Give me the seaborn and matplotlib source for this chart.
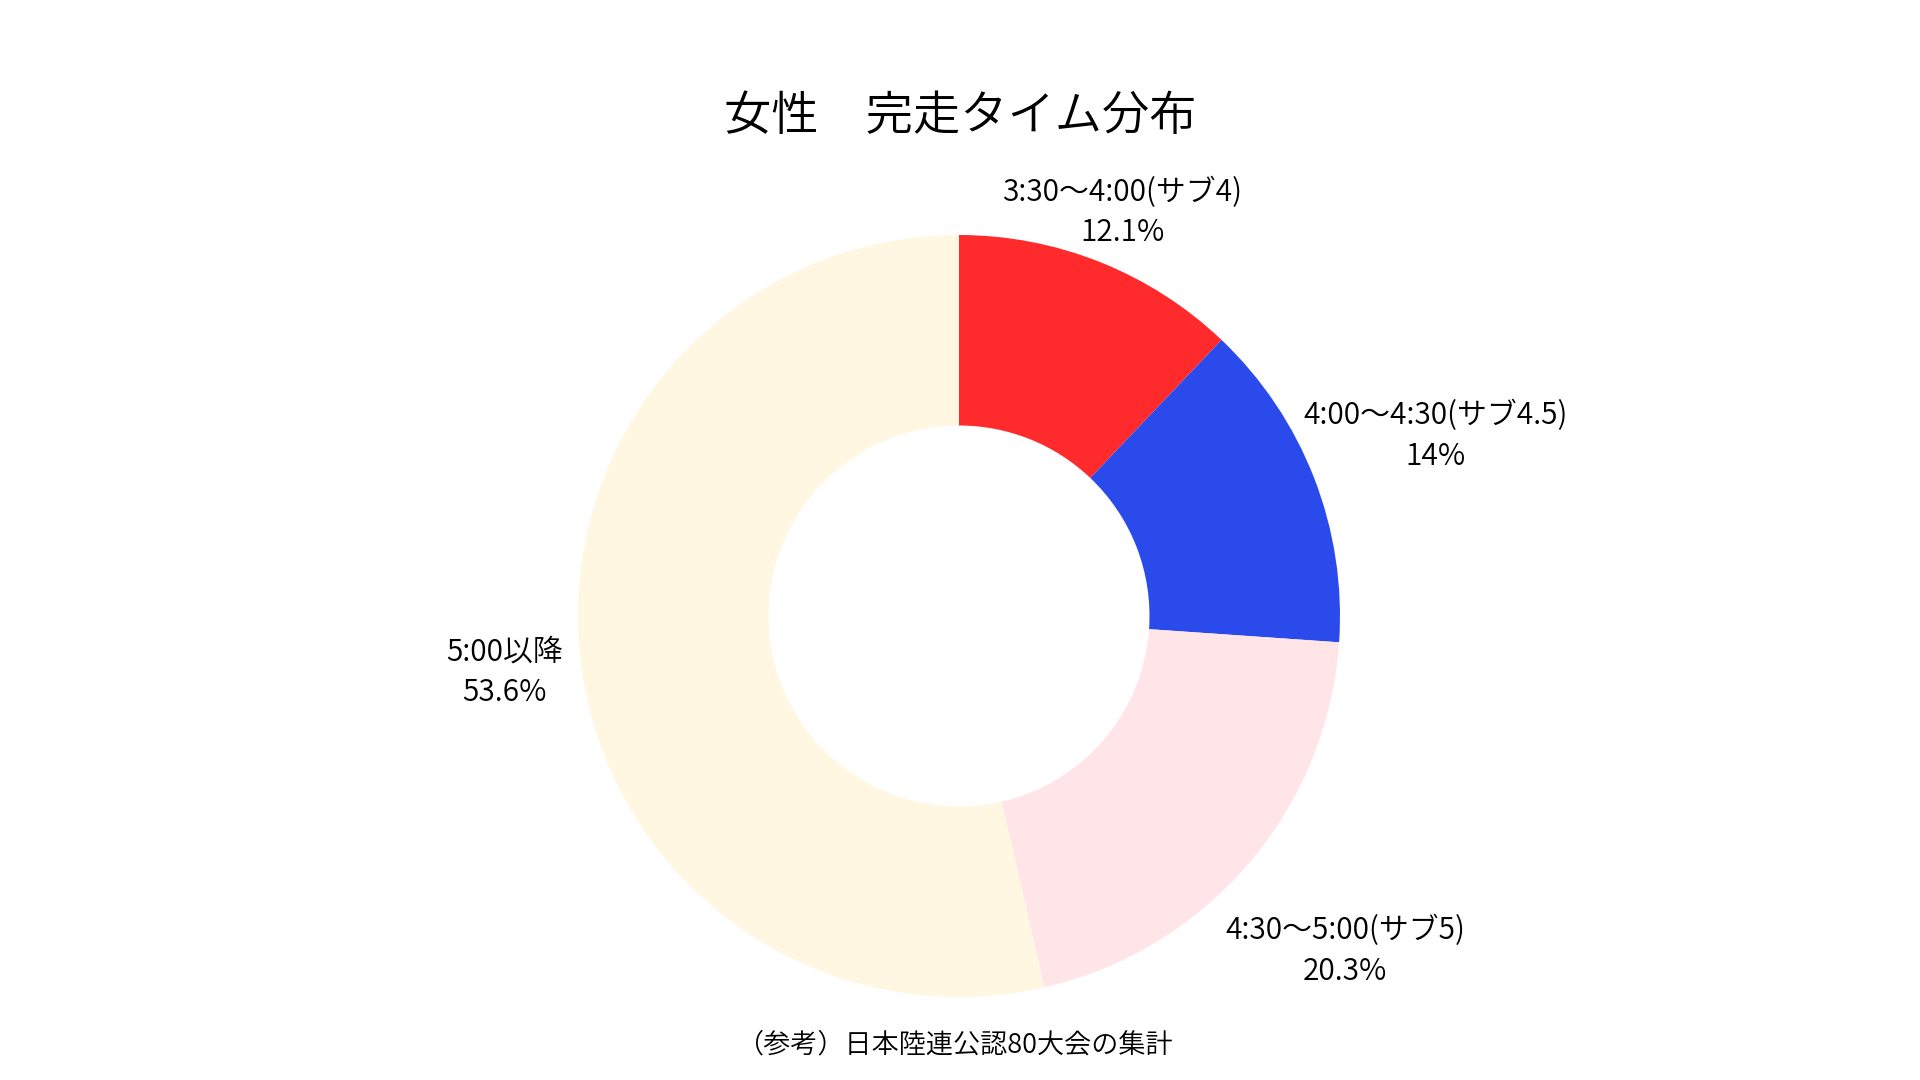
import numpy as np
import matplotlib
matplotlib.use("Agg")
import matplotlib.pyplot as plt
import seaborn as sns

# data
categories = ["3:30～4:00(サブ4)", "4:00～4:30(サブ4.5)", "4:30～5:00(サブ5)", "5:00以降"]
shares = [12.1, 14.0, 20.3, 53.6]
colors = ["#FF2A2B", "#2B4AEC", "#FFE4E8", "#FFF7E1"]
title = "女性　完走タイム分布"
note = "（参考）日本陸連公認80大会の集計"

sns.set_theme(style="white")
plt.rcParams["font.family"] = ["Noto Sans CJK JP", "DejaVu Sans"]
WEIGHT = 350

fig = plt.figure(figsize=(19.2, 10.8), dpi=100)
W, H = 1920, 1080
cx, cy, R = 959, 1080 - 616, 381
ax = fig.add_axes([(cx - R) / W, (cy - R) / H, 2 * R / W, 2 * R / H])

labels = [f"{c}\n{v:g}%" for c, v in zip(categories, shares)]
wedges, texts = ax.pie(shares, colors=colors, labels=labels, startangle=90,
                       counterclock=False, radius=1.0,
                       wedgeprops=dict(width=0.5, linewidth=0),
                       textprops=dict(fontsize=21.5, color="#000000",
                                      linespacing=1.4, fontweight=WEIGHT),
                       labeldistance=1.2)
ax.set_xlim(-1, 1)
ax.set_ylim(-1, 1)
ax.set_aspect("equal")
ax.axis("off")

# push each label out along its wedge's mid angle until its box just meets the ring
# (labels in the lower half sit a little further out, as in the original)
fig.canvas.draw()
renderer = fig.canvas.get_renderer()
nudge = 5 / R  # text sits a few px lower than its box centre
for w, t in zip(wedges, texts):
    t.set_ha("center")
    t.set_va("center")
    t.set_multialignment("center")
    bb = t.get_window_extent(renderer)
    hw = bb.width / 2 / R
    hh = bb.height / 2 / R
    ang = np.deg2rad((w.theta1 + w.theta2) / 2)
    gap = -0.015 if np.sin(ang) > 0 else 0.04
    c, s = abs(np.cos(ang)), abs(np.sin(ang))
    lo, hi = 0.8, 3.0
    for _ in range(60):
        d = (lo + hi) / 2
        nx = max(0.0, d * c - hw)
        ny = max(0.0, d * s - hh)
        if np.hypot(nx, ny) < 1.0 + gap:
            lo = d
        else:
            hi = d
    t.set_position((d * np.cos(ang), d * np.sin(ang) - nudge))

fig.text(0.5, 1 - 117 / H, title, ha="center", va="center", fontsize=34,
         color="#000000", fontweight=WEIGHT)
fig.text(0.497, 1 - 1045 / H, note, ha="center", va="center", fontsize=19.5,
         color="#000000", fontweight=WEIGHT)

fig.savefig("out.png", dpi=100, facecolor="white")
